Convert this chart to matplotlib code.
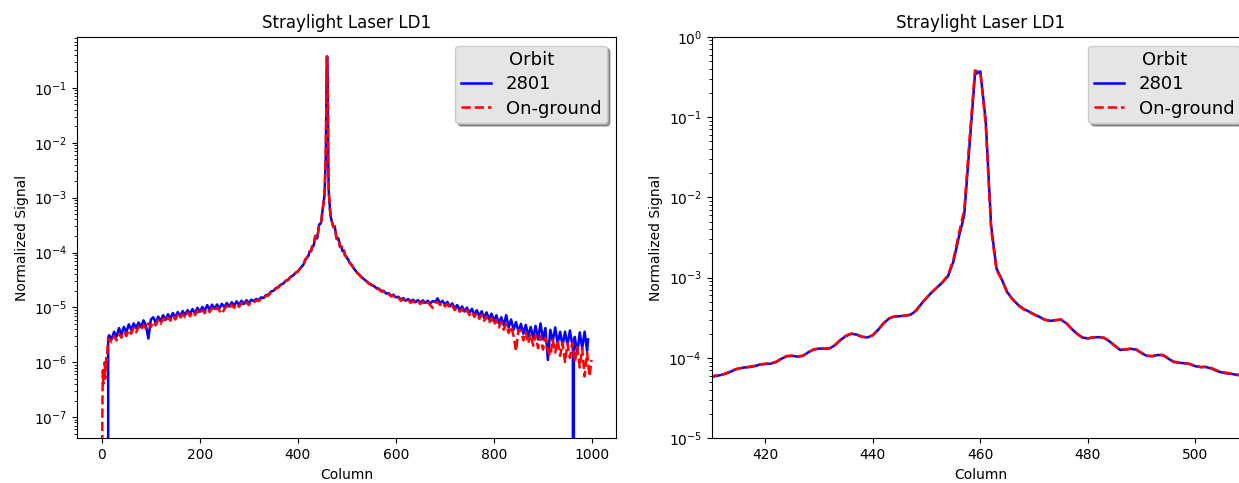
import numpy as np
import matplotlib
matplotlib.use("Agg")
import matplotlib.pyplot as plt

# ---------------- text ----------------
title = "Straylight Laser LD1"
legend_title = "Orbit"
series_names = ["2801", "On-ground"]
xlabel = "Column"
ylabel = "Normalized Signal"
left_yticks = [1e-7, 1e-6, 1e-5, 1e-4, 1e-3, 1e-2, 1e-1]

# values below are given in units of 1e-6
UNIT = 1e-6

# ---------------- orbit 2801 (blue) ----------------
orbit_start_cols = [0, 12, 13]
orbit_start = [0.0, 0.0, 2.8]

wing_left_cols = list(range(15, 410, 5))
orbit_wing_left = [
    3.1, 2.6, 3.6, 2.9, 4.2, 3.2, 4.4, 3.5, 4.9, 3.9,
    5.1, 4.2, 5.3, 4.4, 5.8, 4.7, 2.7, 6.0, 6.6, 5.2,
    6.8, 5.6, 7.2, 5.9, 7.5, 6.3, 7.9, 6.6, 8.2, 6.9,
    8.6, 7.2, 8.9, 7.6, 9.3, 7.8, 9.8, 8.3, 10.2, 8.6,
    11.0, 9.0, 11.2, 9.4, 11.3, 9.6, 11.6, 10.0, 12.0, 10.3,
    12.4, 10.7, 12.9, 11.1, 13.2, 11.5, 13.5, 12.0, 13.8, 13.0,
    14.2, 13.6, 15.2, 14.8, 16.8, 17.0, 19.4, 20.0, 22.4, 23.5,
    26.0, 27.0, 30.5, 32.0, 36.0, 38.0, 42.5, 45.5, 52.0]

peak_cols = list(range(410, 511))
orbit_peak = [
    58, 60, 62, 65, 70, 74, 76, 77, 79, 83,
    84, 85, 89, 98, 105, 106, 104, 106, 118, 127,
    131, 130, 132, 145, 168, 188, 200, 195, 183, 180,
    192, 225, 270, 310, 328, 332, 335, 345, 385, 470,
    560, 660, 760, 880, 1050, 1600, 3200, 6000, 45000, 340000,
    370000, 90000, 4500, 1300, 950, 660, 540, 460, 410, 380,
    350, 325, 300, 290, 295, 300, 270, 230, 200, 180,
    175, 180, 182, 178, 162, 142, 126, 127, 130, 127,
    115, 106, 105, 109, 108, 98, 89, 87, 86, 84,
    79, 77, 77, 74, 69, 66, 64, 63, 61, 60, 58]

orbit_wing_right_cols = (list(range(515, 961, 5)) + [961, 962, 963]
                         + list(range(965, 991, 5)) + [992])
orbit_wing_right = [
    50, 44, 39.5, 35.5, 32.5, 30, 27.5, 26, 24.5, 22.5,
    22.0, 20.0, 20.0, 17.8, 18.2, 16.4, 17.0, 15.2, 15.6, 13.8,
    14.8, 13.2, 14.2, 12.8, 13.8, 12.4, 13.6, 12.2, 13.4, 12.0,
    13.2, 11.8, 13.0, 12.6, 14.6, 11.8, 13.2, 11.2, 12.6, 10.4,
    11.8, 9.6, 11.0, 9.0, 10.4, 8.4, 9.9, 7.9, 9.4, 7.4,
    8.9, 6.9, 8.5, 6.4, 8.1, 6.0, 7.7, 5.6, 7.2, 5.1,
    6.6, 4.7, 7.2, 4.3, 6.0, 3.9, 5.4, 3.6, 5.0, 3.3,
    4.8, 3.0, 4.4, 2.8, 4.6, 2.6, 5.1, 2.6, 4.2, 1.1,
    3.9, 2.4, 4.3, 2.2, 3.6, 2.0, 3.6, 2.1, 3.8, 2.0,
    2.4, 0.0, 2.5,
    2.9, 1.4, 3.5, 1.8, 3.6, 1.6,
    2.6]

# ---------------- on-ground (red) ----------------
ground_start_cols = list(range(0, 15))
ground_start = [0.0, 0.09, 0.7, 0.4, 0.8, 0.6, 1.0, 0.5, 0.9, 1.2, 1.0, 1.4, 2.2, 2.7, 2.5]

ground_wing_left = [
    2.6, 2.3, 3.0, 2.5, 3.3, 2.8, 3.6, 3.0, 3.9, 3.3,
    4.2, 3.5, 4.5, 3.8, 4.8, 4.1, 5.1, 4.4, 5.5, 4.7,
    5.9, 5.0, 6.3, 5.4, 6.6, 5.7, 7.0, 6.0, 7.3, 6.3,
    7.6, 6.6, 8.0, 6.9, 8.3, 7.2, 8.7, 7.5, 9.0, 7.8,
    9.4, 8.2, 9.8, 8.5, 10.0, 8.7, 7.6, 9.2, 10.7, 9.4,
    11.2, 9.8, 11.6, 10.2, 12.0, 10.6, 12.4, 11.0, 12.9, 12.2,
    13.4, 13.0, 14.5, 14.3, 16.2, 16.5, 18.8, 19.5, 21.8, 23.0,
    25.5, 26.5, 30.0, 31.5, 35.5, 37.5, 42.0, 45.0, 51.5]

ground_peak = [
    59, 61, 62, 66, 71, 74, 76, 78, 80, 83,
    85, 86, 90, 99, 106, 107, 105, 107, 119, 128,
    132, 131, 133, 147, 170, 190, 202, 196, 184, 181,
    193, 228, 272, 312, 330, 334, 337, 348, 390, 475,
    565, 665, 765, 890, 1080, 1700, 3500, 7000, 55000, 380000,
    360000, 80000, 4000, 1250, 940, 655, 535, 455, 405, 375,
    348, 322, 298, 289, 296, 302, 272, 231, 199, 179,
    176, 181, 183, 179, 163, 143, 127, 128, 131, 128,
    116, 107, 106, 110, 109, 99, 90, 88, 86, 84,
    80, 77, 78, 75, 70, 67, 65, 64, 62, 61, 59]

ground_wing_right_cols = list(range(515, 996, 5)) + [999]
ground_wing_right = [
    49.5, 43.5, 39, 35, 32, 29.5, 27, 25.5, 23.8, 22,
    21.4, 19.5, 19.4, 17.2, 17.6, 15.8, 16.4, 14.6, 15.0, 13.2,
    14.0, 12.6, 13.4, 12.1, 13.0, 11.7, 12.8, 11.5, 12.6, 11.2,
    12.4, 11.0, 9.8, 12.0, 12.6, 11.0, 12.2, 10.4, 11.6, 9.6,
    10.8, 8.9, 10.0, 8.3, 9.4, 7.7, 8.9, 7.2, 8.4, 6.7,
    7.9, 6.2, 7.4, 5.7, 6.9, 5.2, 6.4, 4.8, 6.0, 4.3,
    5.5, 3.9, 5.0, 3.4, 4.5, 3.0, 1.6, 3.9, 3.8, 2.5,
    3.6, 2.2, 3.3, 2.0, 3.1, 1.8, 3.0, 1.7, 2.8, 1.6,
    1.3, 2.6, 1.5, 2.5, 1.3, 2.3, 1.0, 2.2, 1.2, 2.3,
    1.0, 1.9, 0.8, 1.8, 0.55, 1.5, 0.55,
    1.1]

# ---------------- assemble ----------------
orbit_x = np.array(orbit_start_cols + wing_left_cols + peak_cols + orbit_wing_right_cols)
orbit_y = np.array(orbit_start + orbit_wing_left + orbit_peak + orbit_wing_right) * UNIT
ground_x = np.array(ground_start_cols + wing_left_cols + peak_cols + ground_wing_right_cols)
ground_y = np.array(ground_start + ground_wing_left + ground_peak + ground_wing_right) * UNIT

W, H = 1239, 483
fig = plt.figure(figsize=(W / 100, H / 100), dpi=100)
ax1 = fig.add_axes([77.3 / W, 44.7 / H, 538.7 / W, 401.6 / H])
ax2 = fig.add_axes([711.7 / W, 44.7 / H, 537.3 / W, 401.6 / H])

for ax in (ax1, ax2):
    ax.plot(orbit_x, orbit_y, color="blue", lw=1.8, label=series_names[0])
    ax.plot(ground_x, ground_y, color="red", lw=1.8, ls="--", label=series_names[1])
    ax.set_yscale("log")
    ax.set_title(title, fontsize=12)
    ax.set_xlabel(xlabel, fontsize=10)
    ax.set_ylabel(ylabel, fontsize=10)
    ax.tick_params(labelsize=10)
    ax.legend(title=legend_title, loc="upper right", shadow=True, fancybox=True,
              framealpha=1, facecolor="#e5e5e5", edgecolor="#cccccc",
              fontsize=13, title_fontsize=13, labelspacing=0.35, borderpad=0.3,
              handlelength=1.7)

ax1.set_xlim(-50, 1049)
ax1.set_ylim(4.1e-8, 0.86)
ax1.set_yticks(left_yticks)
ax2.set_xlim(410, 510)
ax2.set_ylim(1e-5, 1)

fig.savefig("out.png", dpi=100)
